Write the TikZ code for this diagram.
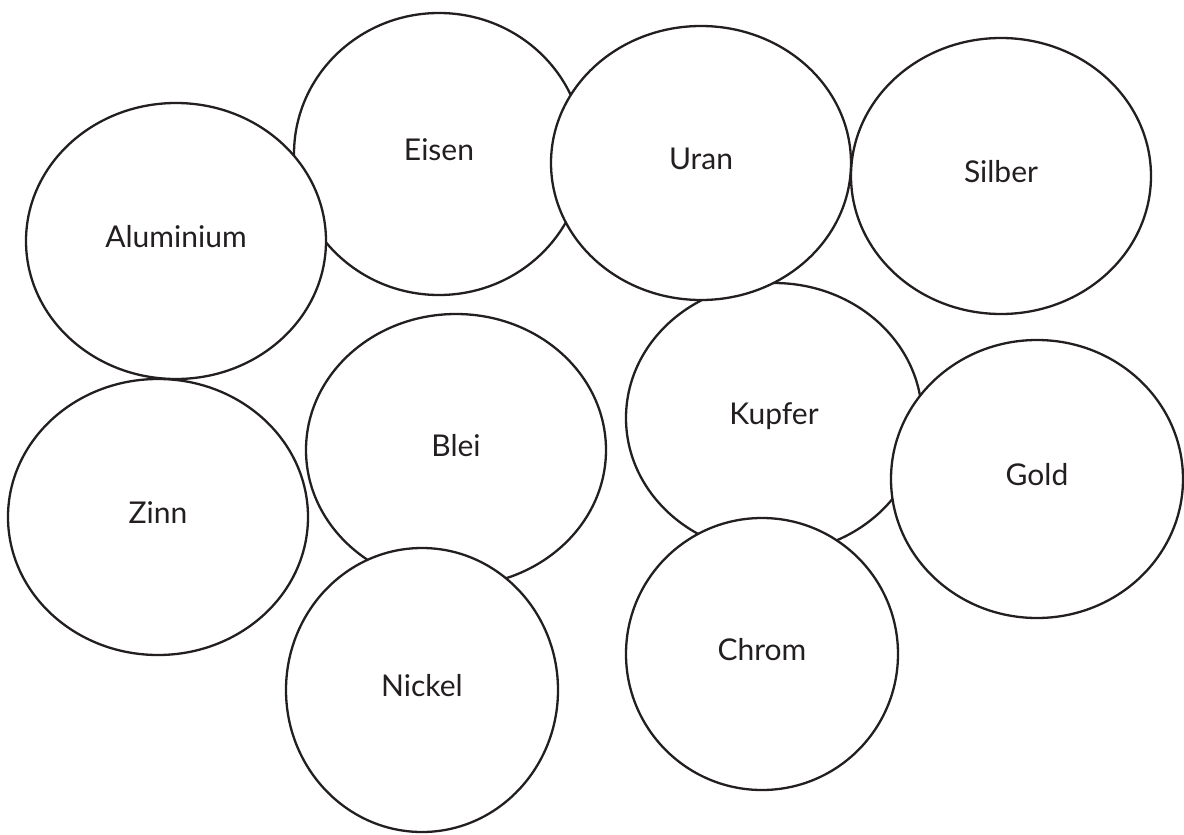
\documentclass[tikz,border=0pt]{standalone}
\usepackage{fontspec}
\setmainfont{Lato}
\usetikzlibrary{shapes.geometric}
\definecolor{inkBlack}{RGB}{35, 31, 32}

\tikzset{
  metal/.style={draw=inkBlack, fill=white, ellipse, line width=1.15pt, inner sep=0pt,
    font=\fontsize{15pt}{18pt}\selectfont, text=inkBlack, text height=11pt, text depth=5pt}
}

\begin{document}
\begin{tikzpicture}[x=0.5pt, y=-0.5pt]
  \useasboundingbox (0,0) rectangle (1184,835);
  % upper row
  \node[metal, minimum width=145pt, minimum height=141pt] (eisen) at (439,154) {Eisen};
  \node[metal, minimum width=150pt, minimum height=138pt] (aluminium) at (176,241) {Aluminium};
  \node[metal, minimum width=148pt, minimum height=135pt] (kupfer) at (774,418) {Kupfer};
  \node[metal, minimum width=150pt, minimum height=137pt] (uran) at (701,163) {Uran};
  \node[metal, minimum width=150pt, minimum height=138pt] (silber) at (1001,176) {Silber};
  % lower rows
  \node[metal, minimum width=146pt, minimum height=139pt] (gold) at (1037,479) {Gold};
  \node[metal, minimum width=136pt, minimum height=136pt] (chrom) at (762,654) {Chrom};
  \node[metal, minimum width=150pt, minimum height=138pt] (zinn) at (158,517) {Zinn};
  \node[metal, minimum width=150pt, minimum height=136pt] (blei) at (456,450) {Blei};
  \node[metal, minimum width=136pt, minimum height=142pt] (nickel) at (422,690) {Nickel};
\end{tikzpicture}
\end{document}
